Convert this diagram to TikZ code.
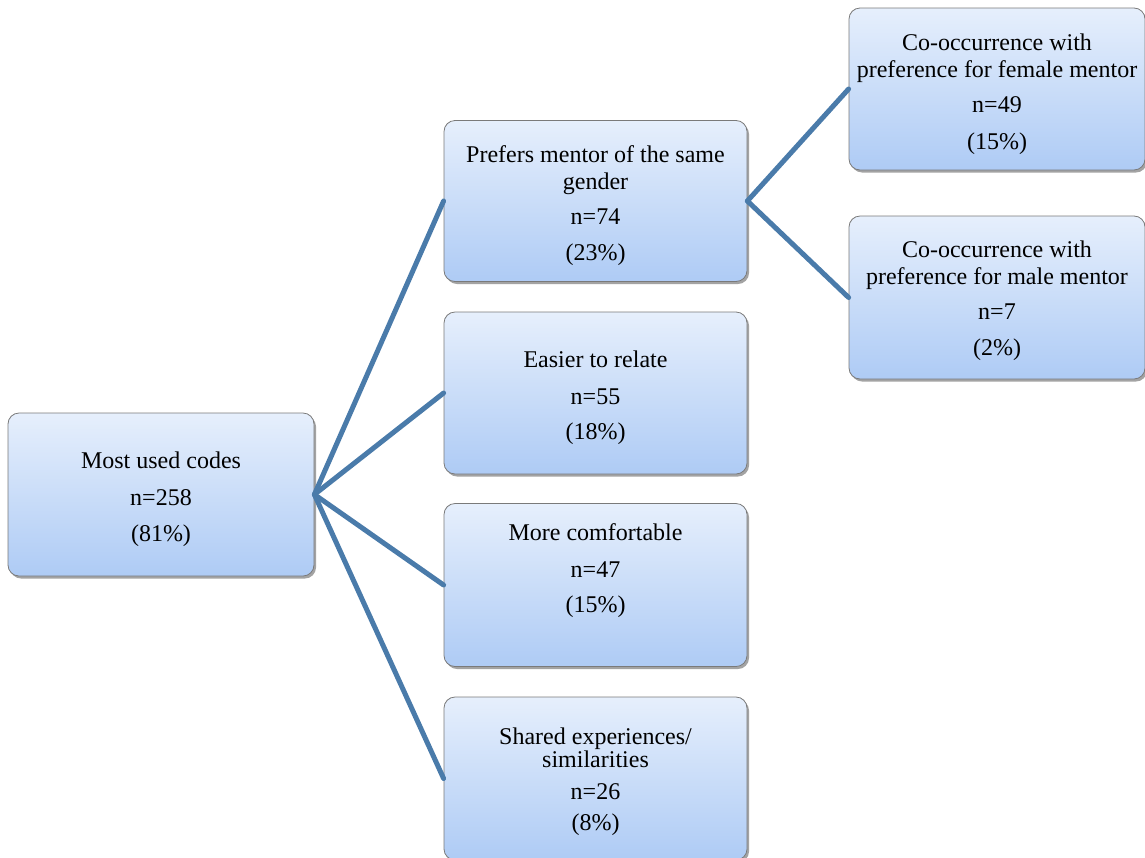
\documentclass[tikz,border=0pt]{standalone}
\usepackage{fontspec}
\setmainfont{Liberation Serif}
\usetikzlibrary{shadows}
\definecolor{topfill}{HTML}{E6EFFC}
\definecolor{botfill}{HTML}{AECBF5}
\definecolor{linkblue}{HTML}{4A7BAA}
\definecolor{boxedge}{HTML}{7A7A7A}
\tikzset{
  codebox/.style={rectangle, rounded corners=11pt, draw=boxedge, line width=0.8pt,
    top color=topfill, bottom color=botfill, inner sep=0pt,
    drop shadow={shadow xshift=2pt, shadow yshift=-2.5pt, fill=black!45, opacity=0.8}},
  boxtext/.style={align=center, font=\fontsize{24}{27}\selectfont, text=black},
  link/.style={draw=linkblue, line width=5pt, line cap=round}
}
\begin{document}
\begin{tikzpicture}[x=1pt,y=-1pt]
\useasboundingbox (0,0) rectangle (1145,857);
% boxes
\node[codebox, minimum width=306pt, minimum height=163pt] (root) at (161,494.5) {};
\node[codebox, minimum width=303pt, minimum height=161pt] (same) at (595.5,201) {};
\node[codebox, minimum width=303pt, minimum height=162pt] (relate) at (595.5,393) {};
\node[codebox, minimum width=303pt, minimum height=163pt] (comfort) at (595.5,585) {};
\node[codebox, minimum width=303pt, minimum height=163pt] (shared) at (595.5,778.5) {};
\node[codebox, minimum width=296pt, minimum height=162pt] (female) at (997,89) {};
\node[codebox, minimum width=296pt, minimum height=163pt] (male) at (997,297.5) {};
% connectors
\draw[link] (root.east) -- (same.west);
\draw[link] (root.east) -- (relate.west);
\draw[link] (root.east) -- (comfort.west);
\draw[link] (root.east) -- (shared.west);
\draw[link] (same.east) -- (female.west);
\draw[link] (same.east) -- (male.west);
% texts
\node[boxtext] (troot) at (161,499) {Most used codes\\[10pt] n=258\\[9pt] (81\%)};
\node[boxtext] (tsame) at (595.5,206) {Prefers mentor of the same\\ gender\\[8pt] n=74\\[9pt] (23\%)};
\node[boxtext] (trelate) at (595.5,398) {Easier to relate\\[10pt] n=55\\[8pt] (18\%)};
\node[boxtext] (tcomfort) at (595.5,571) {More comfortable\\[10pt] n=47\\[8pt] (15\%)};
\node[boxtext] (tshared) at (595.5,782) {Shared experiences/\\[-4pt] similarities\\[5pt] n=26\\[4pt] (8\%)};
\node[boxtext] (tfemale) at (997,94.5) {Co-occurrence with\\ preference for female mentor\\[8pt] n=49\\[10pt] (15\%)};
\node[boxtext] (tmale) at (997,301) {Co-occurrence with\\ preference for male mentor\\[8pt] n=7\\[9pt] (2\%)};
\end{tikzpicture}
\end{document}
